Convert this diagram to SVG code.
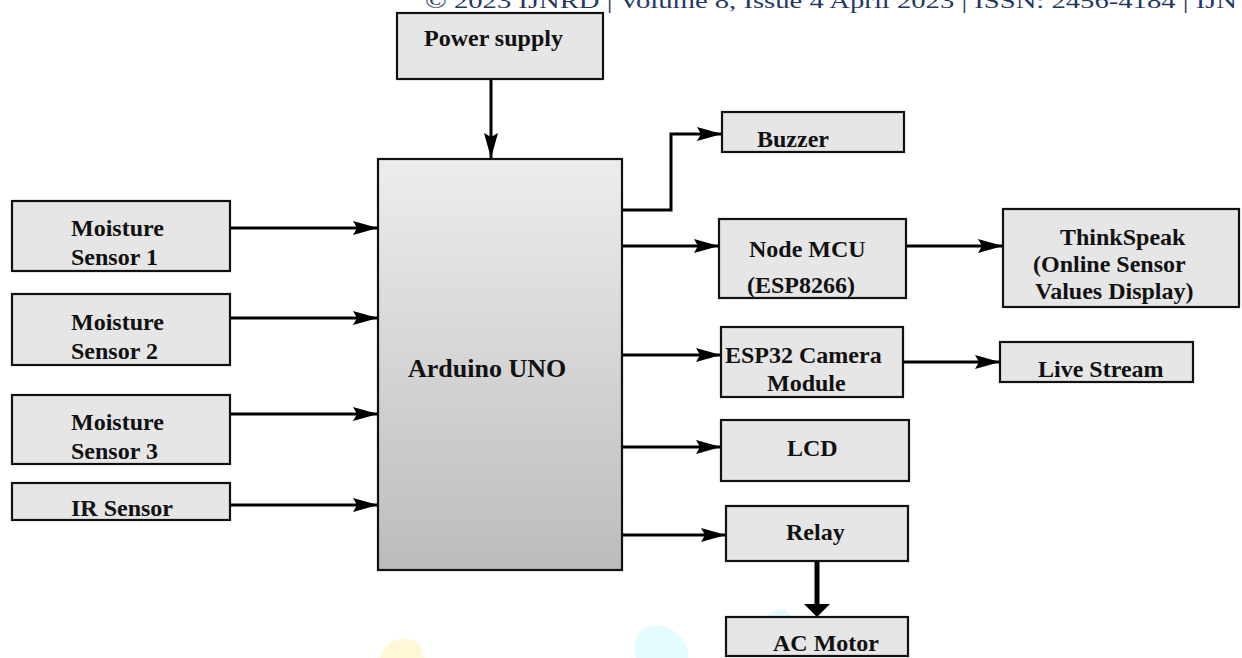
<svg xmlns="http://www.w3.org/2000/svg" width="1242" height="658" viewBox="0 0 1242 658">
<defs>
<linearGradient id="ard" x1="0" y1="0" x2="0" y2="1">
<stop offset="0" stop-color="#ededed"/>
<stop offset="1" stop-color="#bcbcbc"/>
</linearGradient>
<marker id="ah" markerUnits="userSpaceOnUse" markerWidth="26" markerHeight="16" refX="25" refY="8" orient="auto">
<path d="M0,1 L25,8 L0,15 L4,8 Z" fill="#000"/>
</marker>
<marker id="ahb" markerUnits="userSpaceOnUse" markerWidth="28" markerHeight="28" refX="14" refY="14" orient="auto">
<path d="M0,0 L14,14 L0,28 Z" fill="#000"/>
</marker>
</defs>
<style>
.box{fill:#e6e6e6;stroke:#111;stroke-width:2.2}
.t{font-family:"Liberation Serif","Times New Roman",serif;font-weight:bold;font-size:24px;fill:#111}
.c{fill:none;stroke:#000;stroke-width:3}
</style>
<rect width="1242" height="658" fill="#fff"/>
<g id="watermark" opacity="0.9">
<path d="M636,658 C630,640 640,622 662,626 C680,630 690,648 688,658 Z" fill="#e3fbfe"/>
<path d="M766,618 C770,606 790,606 792,618 Z" fill="#e3fbfe"/>
<path d="M380,658 C385,640 405,632 420,645 L424,658 Z" fill="#fff6d0"/>
</g>
<text x="425" y="8" font-family="'Liberation Serif','Times New Roman',serif" font-size="22" fill="#1f3864" textLength="812" lengthAdjust="spacingAndGlyphs">© 2023 IJNRD | Volume 8, Issue 4 April 2023 | ISSN: 2456-4184 | IJN</text>
<g id="connectors">
<path class="c" d="M491,79 V158" marker-end="url(#ah)"/>
<path class="c" d="M230,228 H378" marker-end="url(#ah)"/>
<path class="c" d="M230,318 H378" marker-end="url(#ah)"/>
<path class="c" d="M230,414 H378" marker-end="url(#ah)"/>
<path class="c" d="M230,505 H378" marker-end="url(#ah)"/>
<path class="c" d="M622,210 H671 V134 H722" marker-end="url(#ah)"/>
<path class="c" d="M620,246 H719" marker-end="url(#ah)"/>
<path class="c" d="M906,246 H1003" marker-end="url(#ah)"/>
<path class="c" d="M622,355 H721" marker-end="url(#ah)"/>
<path class="c" d="M903,362 H1000" marker-end="url(#ah)"/>
<path class="c" d="M622,447 H721" marker-end="url(#ah)"/>
<path class="c" d="M622,535 H726" marker-end="url(#ah)"/>
<path class="c" d="M817,561 V604" style="stroke-width:5"/>
<path d="M804,604 L830,604 L817,617 Z" fill="#000"/>
</g>
<g id="power"><rect class="box" x="397" y="13" width="206" height="66"/><text class="t" x="424" y="46">Power supply</text></g>
<g id="arduino"><rect x="378" y="159" width="244" height="411" fill="url(#ard)" stroke="#111" stroke-width="2.2"/><text class="t" x="408" y="377" style="font-size:26px">Arduino UNO</text></g>
<g id="ms1"><rect class="box" x="12" y="201" width="218" height="70"/><text class="t" x="71" y="236">Moisture</text><text class="t" x="71" y="265">Sensor 1</text></g>
<g id="ms2"><rect class="box" x="12" y="294" width="218" height="71"/><text class="t" x="71" y="330">Moisture</text><text class="t" x="71" y="359">Sensor 2</text></g>
<g id="ms3"><rect class="box" x="12" y="395" width="218" height="69"/><text class="t" x="71" y="430">Moisture</text><text class="t" x="71" y="459">Sensor 3</text></g>
<g id="ir"><rect class="box" x="12" y="483" width="218" height="37"/><text class="t" x="71" y="516">IR Sensor</text></g>
<g id="buzzer"><rect class="box" x="722" y="112" width="182" height="40"/><text class="t" x="757" y="147">Buzzer</text></g>
<g id="nodemcu"><rect class="box" x="719" y="219" width="187" height="79"/><text class="t" x="749" y="257">Node MCU</text><text class="t" x="747" y="293">(ESP8266)</text></g>
<g id="thinkspeak"><rect class="box" x="1003" y="209" width="236" height="98"/><text class="t" x="1060" y="245">ThinkSpeak</text><text class="t" x="1033" y="272">(Online Sensor</text><text class="t" x="1035" y="299">Values Display)</text></g>
<g id="esp32"><rect class="box" x="721" y="327" width="182" height="70"/><text class="t" x="725" y="363">ESP32 Camera</text><text class="t" x="767" y="391">Module</text></g>
<g id="live"><rect class="box" x="1000" y="342" width="193" height="40"/><text class="t" x="1038" y="377">Live Stream</text></g>
<g id="lcd"><rect class="box" x="721" y="420" width="188" height="61"/><text class="t" x="787" y="456">LCD</text></g>
<g id="relay"><rect class="box" x="726" y="506" width="182" height="55"/><text class="t" x="786" y="540">Relay</text></g>
<g id="acmotor"><rect class="box" x="726" y="617" width="182" height="39"/><text class="t" x="773" y="651">AC Motor</text></g>
</svg>
